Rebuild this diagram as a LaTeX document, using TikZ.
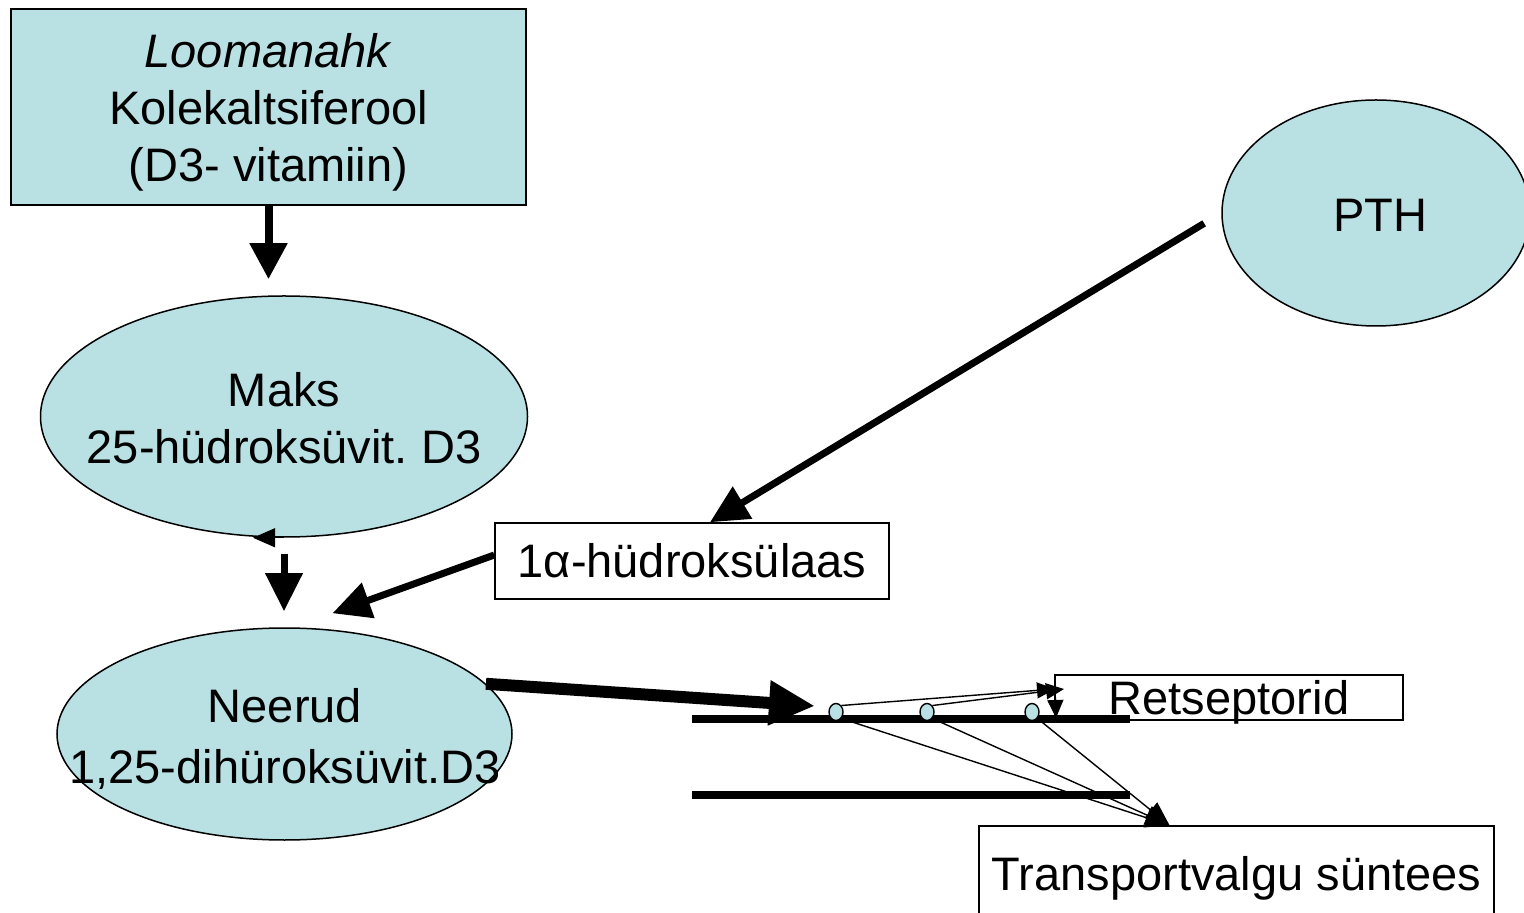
\documentclass[tikz,border=0pt]{standalone}
\usepackage{fontspec}
\setmainfont{Liberation Sans}
\usetikzlibrary{shapes.geometric,arrows.meta,calc}
\definecolor{organblue}{RGB}{185,224,227}
\tikzset{
  organ/.style={ellipse,draw,line width=0.75pt,fill=organblue,inner sep=0pt},
  srcbox/.style={rectangle,draw,line width=0.75pt,fill=organblue,align=center,inner sep=0pt},
  whitebox/.style={rectangle,draw,line width=0.75pt,fill=white,inner sep=0pt},
  recep/.style={ellipse,draw,line width=0.7pt,fill=organblue,minimum width=7pt,minimum height=8.5pt,inner sep=0pt},
  bigarrow/.style={line width=4pt,-{Triangle[width=18pt,length=18pt]}},
  midarrow/.style={line width=3.5pt,-{Triangle[width=18pt,length=19pt]}},
  fatarrow/.style={line width=6pt,-{Triangle[width=21pt,length=23pt]}},
  thinarrow/.style={line width=0.7pt,-{Triangle[width=8pt,length=9pt]}},
  downarrow/.style={line width=0.7pt,-{Triangle[width=10pt,length=12pt]}},
  tinyarrow/.style={line width=0.5pt,-{Triangle[width=9.5pt,length=11pt]}},
  membrane/.style={line width=4pt}
}
\begin{document}
\frenchspacing
\begin{tikzpicture}[x=0.5pt,y=-0.5pt,font=\fontsize{23.5}{28.5}\selectfont]
  \useasboundingbox (0,0) rectangle (1524,913);
  \node[srcbox,text depth=0pt,minimum width=257.5pt,minimum height=98pt] (loomanahk) at (268.5,107) {\textit{Loomanahk}\\Kolekaltsiferool\\(D3- vitamiin)};
  \node[organ,minimum width=243.5pt,minimum height=120.5pt] (maks) at (284,416.5) {};
  \node[align=center] (makstxt) at (284,418) {Maks\\25-hüdroksüvit. D3};
  \node[organ,minimum width=227.5pt,minimum height=106pt] (neerud) at (284.5,734) {};
  \node[align=center] (neerudtxt) at (285,739) {Neerud\\[2pt]1,25-dihüroksüvit.D3};
  \node[organ,minimum width=154pt,minimum height=113pt] (pth) at (1376,213) {};
  \node (pthtxt) at (1380,215) {PTH};
  \node[whitebox,minimum width=197pt,minimum height=38pt] (hydrox) at (692,561) {1α-hüdroksülaas};
  \node[whitebox,text depth=0pt,minimum width=174pt,minimum height=22.5pt] (retsep) at (1229,697.5) {Retseptorid};
  \node[whitebox,text depth=0pt,minimum width=257.5pt,minimum height=47pt] (transp) at (1236.5,873) {Transportvalgu süntees};
  \coordinate (memAa) at (692,719);
  \coordinate (memAb) at (1130,719);
  \coordinate (memBa) at (692,795);
  \coordinate (memBb) at (1130,795);
  \coordinate (rin) at (815,706);
  \coordinate (rA) at (1055,689);
  \coordinate (rB) at (1064,689);
  \coordinate (rC) at (1056,718);
  \coordinate (ttop) at ($(transp.north)+(-67,0)$);
  \draw[membrane] (memAa) -- (memAb);
  \draw[membrane] (memBa) -- (memBb);
  \draw[bigarrow,shorten >=8pt] (loomanahk.south) -- (loomanahk.south |- maks.north);
  \draw[tinyarrow] (maks.south) -- ++(-31,0);
  \draw[midarrow,shorten <=8pt,shorten >=8pt] (maks.south) -- (maks.south |- neerud.north);
  \draw[midarrow,shorten <=10pt] (pth.west) -- ($(hydrox.north)+(18,0)$);
  \draw[midarrow] ($(hydrox.west)+(0,-6)$) -- ($(neerud.north)+(48,-14)$);
  \draw[fatarrow] (neerud.14) -- (rin);
  \node[recep] (c1) at (836,712) {};
  \node[recep] (c2) at (927,712) {};
  \node[recep] (c3) at (1032,712) {};
  \draw[thinarrow] (c1.north east) -- (rA);
  \draw[thinarrow] (c2.north east) -- (rB);
  \draw[thinarrow] (rA) -- (rC);
  \draw[downarrow] (c1.south east) -- (ttop);
  \draw[downarrow] (c2.south east) -- (ttop);
  \draw[downarrow] (c3.south east) -- (ttop);
\end{tikzpicture}
\end{document}
